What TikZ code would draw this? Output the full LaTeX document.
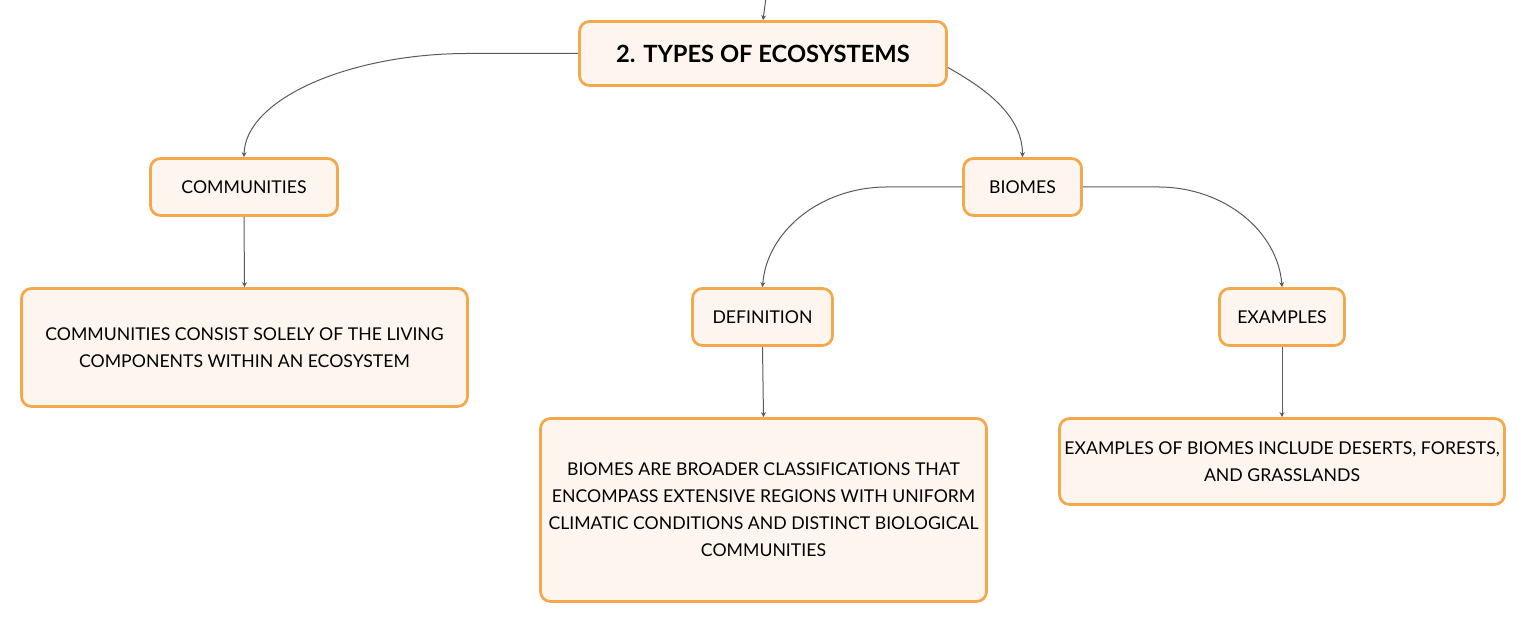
\documentclass[tikz,border=0pt]{standalone}
\usepackage{fontspec}
\setmainfont{Lato}
\usepackage{tikz}
\usetikzlibrary{arrows.meta}

\definecolor{boxorange}{HTML}{F4A84C}
\definecolor{boxfill}{HTML}{FEF6EE}
\definecolor{linkgray}{HTML}{5A5A5A}

\begin{document}
\begin{tikzpicture}[
			ecobox/.style={draw=boxorange, fill=boxfill, rounded corners=0.2cm, line width=0.55mm, align=center, inner sep=0pt, font=\fontsize{10.05}{15.4}\selectfont},
			link/.style={-{Stealth[length=1mm,width=1mm]}, draw=linkgray, line width=0.2mm}
		]
		\useasboundingbox (0,0) rectangle (30.54,12.48);

		\node[ecobox, minimum width=7.34cm, minimum height=1.28cm, font=\fontsize{13.5}{17}\selectfont\bfseries] (types) at (15.26,11.41) {2. TYPES OF ECOSYSTEMS};
		\coordinate (above) at (15.33,12.6);

		\node[ecobox, minimum width=3.74cm, minimum height=1.14cm] (comm) at (4.88,8.74) {COMMUNITIES};
		\node[ecobox, minimum width=2.36cm, minimum height=1.14cm] (biomes) at (20.45,8.74) {BIOMES};

		\node[ecobox, minimum width=8.92cm, minimum height=2.36cm] (commtxt) at (4.89,5.53) {COMMUNITIES CONSIST SOLELY OF THE LIVING\\COMPONENTS WITHIN AN ECOSYSTEM};

		\node[ecobox, minimum width=2.8cm, minimum height=1.14cm] (defn) at (15.25,6.14) {DEFINITION};
		\node[ecobox, minimum width=2.5cm, minimum height=1.14cm] (exam) at (25.64,6.14) {EXAMPLES};

		\node[ecobox, minimum width=8.92cm, minimum height=3.66cm] (defntxt) at (15.27,2.28) {BIOMES ARE BROADER CLASSIFICATIONS THAT\\ENCOMPASS EXTENSIVE REGIONS WITH UNIFORM\\CLIMATIC CONDITIONS AND DISTINCT BIOLOGICAL\\COMMUNITIES};
		\node[ecobox, minimum width=8.9cm, minimum height=1.72cm] (examtxt) at (25.64,3.25) {EXAMPLES OF BIOMES INCLUDE DESERTS, FORESTS,\\AND GRASSLANDS};

		% connectors
		\draw[link] (above) -- (types.north);
		\draw[link] (types.west) -- ++(-2.2,0) .. controls +(-2.4,0) and +(0.02,1.15) .. (comm.north);
		\draw[link] ([yshift=-0.28cm]types.east) .. controls +(0.6,-0.34) and +(0,0.9) .. (biomes.north);
		\draw[link] (biomes.west) -- ++(-1.5,0) .. controls +(-1.35,0) and +(0.08,1.1) .. (defn.north);
		\draw[link] (biomes.east) -- ++(1.5,0) .. controls +(1.35,0) and +(-0.08,1.1) .. (exam.north);
		\draw[link] (comm.south) -- (commtxt.north);
		\draw[link] (defn.south) -- (defntxt.north);
		\draw[link] (exam.south) -- (examtxt.north);
	\end{tikzpicture}
\end{document}
